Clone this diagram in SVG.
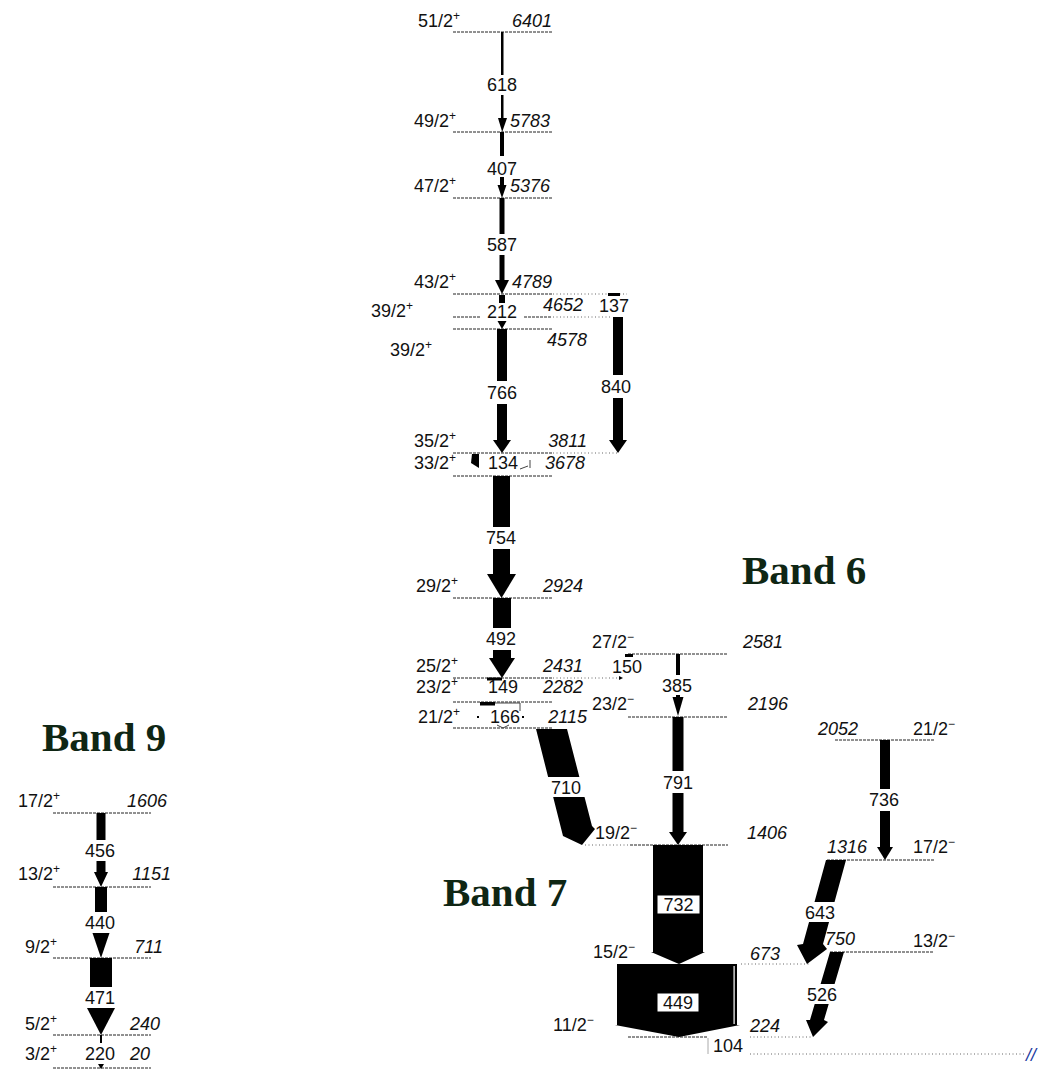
<svg xmlns="http://www.w3.org/2000/svg" width="1041" height="1071" viewBox="0 0 1041 1071">
<style>
text{font-family:"Liberation Sans",Arial,sans-serif;font-size:18px;fill:#111}
.e{font-style:italic}
.s{font-size:12px}
.en{font-style:italic;text-anchor:end}
.lv{stroke:#222;stroke-width:1;stroke-dasharray:3 1;fill:none}
.dt{stroke:#666;stroke-width:1;stroke-dasharray:1 2.5;fill:none}
.thin{stroke:#444;stroke-width:1;fill:none}
.band{font-family:"Liberation Serif","Times New Roman",serif;font-weight:bold;font-size:41px;fill:#0f2614}
.lb{text-anchor:middle}
.bx{fill:#fff;stroke:#000;stroke-width:1}
.wh{fill:#fff}
</style>
<rect width="1041" height="1071" fill="#fff"/>
<g id="bands">
<text class="band" x="742" y="584">Band 6</text>
<text class="band" x="443" y="906">Band 7</text>
<text class="band" x="42" y="751">Band 9</text>
</g>
<!-- Levels -->
<g id="L6401"><line class="lv" x1="453" y1="32" x2="552" y2="32"/><text x="418" y="27">51/2<tspan class="s" dy="-7">+</tspan></text><text class="en" x="552" y="27">6401</text></g>
<g id="L5783"><line class="lv" x1="453" y1="132" x2="552" y2="132"/><text x="414" y="127">49/2<tspan class="s" dy="-7">+</tspan></text><text class="en" x="550" y="127">5783</text></g>
<g id="L5376"><line class="lv" x1="453" y1="198" x2="552" y2="198"/><text x="414" y="192">47/2<tspan class="s" dy="-7">+</tspan></text><text class="en" x="550" y="192">5376</text></g>
<g id="L4789"><line class="lv" x1="453" y1="294" x2="552" y2="294"/><line class="dt" x1="553" y1="294" x2="627" y2="294"/><text x="414" y="288">43/2<tspan class="s" dy="-7">+</tspan></text><text class="en" x="552" y="288">4789</text></g>
<g id="L4652"><line class="lv" x1="453" y1="317" x2="480" y2="317"/><line class="lv" x1="524" y1="317" x2="552" y2="317"/><line class="dt" x1="553" y1="317" x2="612" y2="317"/><text x="371" y="317">39/2<tspan class="s" dy="-7">+</tspan></text><text class="en" x="583" y="311">4652</text></g>
<g id="L4578"><line class="lv" x1="453" y1="329" x2="552" y2="329"/><text x="390" y="356">39/2<tspan class="s" dy="-7">+</tspan></text><text class="en" x="587" y="346">4578</text></g>
<g id="L3811"><line class="lv" x1="453" y1="453" x2="552" y2="453"/><line class="dt" x1="553" y1="453" x2="618" y2="453"/><text x="414" y="447">35/2<tspan class="s" dy="-7">+</tspan></text><text class="en" x="587" y="447">3811</text></g>
<g id="L3678"><line class="lv" x1="453" y1="476" x2="552" y2="476"/><text x="414" y="469">33/2<tspan class="s" dy="-7">+</tspan></text><text class="en" x="585" y="469">3678</text></g>
<g id="L2924"><line class="lv" x1="453" y1="598" x2="552" y2="598"/><text x="416" y="592">29/2<tspan class="s" dy="-7">+</tspan></text><text class="en" x="583" y="592">2924</text></g>
<g id="L2431"><line class="lv" x1="453" y1="678" x2="552" y2="678"/><line class="dt" x1="553" y1="678" x2="621" y2="678"/><text x="416" y="672">25/2<tspan class="s" dy="-7">+</tspan></text><text class="en" x="583" y="672">2431</text></g>
<g id="L2282"><line class="lv" x1="453" y1="702" x2="552" y2="702"/><text x="416" y="693">23/2<tspan class="s" dy="-7">+</tspan></text><text class="en" x="583" y="693">2282</text></g>
<g id="L2115"><line class="lv" x1="453" y1="728" x2="552" y2="728"/><text x="418" y="723">21/2<tspan class="s" dy="-7">+</tspan></text><text class="en" x="587" y="723">2115</text></g>
<g id="L2581"><line class="lv" x1="628" y1="654" x2="727" y2="654"/><text x="592" y="648">27/2<tspan class="s" dy="-7">−</tspan></text><text class="en" x="783" y="648">2581</text></g>
<g id="L2196"><line class="lv" x1="628" y1="717" x2="727" y2="717"/><text x="592" y="710">23/2<tspan class="s" dy="-7">−</tspan></text><text class="en" x="788" y="710">2196</text></g>
<g id="L1406"><line class="lv" x1="630" y1="845" x2="728" y2="845"/><line class="dt" x1="585" y1="845" x2="629" y2="845"/><text x="595" y="839">19/2<tspan class="s" dy="-7">−</tspan></text><text class="en" x="787" y="839">1406</text></g>
<g id="L673"><line class="dt" x1="741" y1="964" x2="810" y2="964"/><text x="593" y="958">15/2<tspan class="s" dy="-7">−</tspan></text><text class="en" x="780" y="960">673</text></g>
<g id="L224"><line class="lv" x1="628" y1="1037" x2="708" y2="1037"/><line class="dt" x1="750" y1="1037" x2="813" y2="1037"/><text x="553" y="1031">11/2<tspan class="s" dy="-7">−</tspan></text><text class="en" x="780" y="1032">224</text></g>
<g id="L104"><line class="dt" x1="750" y1="1054" x2="1026" y2="1054"/><text x="1026" y="1061" style="fill:#1c3aa0;font-style:italic">//</text></g>
<g id="L2052"><line class="lv" x1="835" y1="740" x2="934" y2="740"/><text class="e" x="818" y="735">2052</text><text x="913" y="735">21/2<tspan class="s" dy="-7">−</tspan></text></g>
<g id="L1316"><line class="lv" x1="827" y1="860" x2="934" y2="860"/><text class="e" x="827" y="853">1316</text><text x="913" y="853">17/2<tspan class="s" dy="-7">−</tspan></text></g>
<g id="L750"><line class="lv" x1="830" y1="952" x2="933" y2="952"/><text class="e" x="825" y="945">750</text><text x="913" y="947">13/2<tspan class="s" dy="-7">−</tspan></text></g>
<g id="L1606"><line class="lv" x1="53" y1="813" x2="151" y2="813"/><text x="18" y="807">17/2<tspan class="s" dy="-7">+</tspan></text><text class="en" x="167" y="807">1606</text></g>
<g id="L1151"><line class="lv" x1="53" y1="887" x2="151" y2="887"/><text x="18" y="880">13/2<tspan class="s" dy="-7">+</tspan></text><text class="en" x="171" y="880">1151</text></g>
<g id="L711"><line class="lv" x1="53" y1="958" x2="151" y2="958"/><text x="25" y="953">9/2<tspan class="s" dy="-7">+</tspan></text><text class="en" x="163" y="953">711</text></g>
<g id="L240"><line class="lv" x1="53" y1="1035" x2="151" y2="1035"/><text x="25" y="1030">5/2<tspan class="s" dy="-7">+</tspan></text><text class="en" x="160" y="1030">240</text></g>
<g id="L20"><line class="lv" x1="53" y1="1068" x2="151" y2="1068"/><text x="25" y="1060">3/2<tspan class="s" dy="-7">+</tspan></text><text class="en" x="150" y="1060">20</text></g>
<!-- Transitions -->
<g id="transitions" fill="#000">
<rect x="501" y="32" width="2.5" height="43"/><rect x="501" y="95" width="2.5" height="24"/><polygon points="498,118 507,118 502.2,132"/><text class="lb" x="502" y="91">618</text>
<rect x="500" y="132" width="4" height="24"/><rect x="500" y="177" width="4" height="8"/><polygon points="497.5,185 506.5,185 502,198"/><text class="lb" x="502" y="175">407</text>
<rect x="499.5" y="198" width="5" height="36"/><rect x="499.5" y="255" width="5" height="25"/><polygon points="495,280 509,280 502,294"/><text class="lb" x="502" y="251">587</text>
<rect x="499" y="295" width="6" height="8"/><polygon points="497.5,321 506.5,321 502,329"/><text class="lb" x="502" y="318">212</text>
<rect x="497" y="329" width="10" height="52"/><rect x="497" y="404" width="10" height="36"/><polygon points="493,440 511,440 502,453"/><text class="lb" x="502" y="399">766</text>
<rect x="608" y="293" width="12" height="3"/><text class="lb" x="614" y="312">137</text>
<rect x="613" y="317" width="10" height="58"/><rect x="613" y="398" width="10" height="42"/><polygon points="609,440 627,440 618,453"/><text class="lb" x="616" y="393">840</text>
<polygon points="472,454 479,454 479,468 471,463"/><polyline class="thin" points="520,469 528,466"/><line class="thin" x1="530" y1="460" x2="530" y2="468"/><text class="lb" x="503" y="469">134</text>
<rect x="493" y="476" width="17" height="51"/><rect x="493" y="549" width="17" height="25"/><polygon points="487,574 516,574 501.5,598"/><text class="lb" x="501" y="544">754</text>
<rect x="493" y="598" width="18" height="30"/><rect x="493" y="650" width="18" height="9"/><polygon points="489,658 515,658 502,678"/><text class="lb" x="501" y="645">492</text>
<rect x="487" y="677.5" width="15" height="3"/><text class="lb" x="503" y="693">149</text>
<rect x="480" y="702" width="15" height="3.5"/><line class="thin" x1="495" y1="703" x2="520" y2="703"/><line class="thin" x1="520" y1="703" x2="520" y2="711"/><rect x="477" y="716" width="2" height="2"/><rect x="522" y="716" width="2" height="2"/><polyline class="thin" points="497,725 503,728 509,725"/><text class="lb" x="505" y="723">166</text>
<rect x="625" y="654" width="8" height="3"/><polygon points="619,676 623,678 619,680"/><text class="lb" x="627" y="673">150</text>
<polygon points="536,729 567,729 592,826 595,829 582,845 563,836"/><rect class="wh" x="548" y="777" width="40" height="20"/><text class="lb" x="566" y="794">710</text>
<rect x="676" y="654" width="4" height="21"/><rect x="676" y="695" width="4" height="3"/><polygon points="672.5,697 683.5,697 678,716"/><text class="lb" x="677" y="692">385</text>
<rect x="672.5" y="717" width="11" height="54"/><rect x="672.5" y="793" width="11" height="40"/><polygon points="669,832 687,832 678,845"/><text class="lb" x="678" y="789">791</text>
<polygon points="653,845 703,845 703,952 705,952 679,964 651,952 653,952"/><rect class="bx" x="657" y="895" width="43" height="19"/><text class="lb" x="678.5" y="911">732</text>
<polygon points="617,964 737,964 737,1025 740,1025 679,1037 615,1025 617,1025"/><rect class="wh" x="733.5" y="966" width="1.2" height="58"/><rect class="bx" x="657" y="993" width="42" height="19"/><text class="lb" x="678" y="1009">449</text>
<rect x="880" y="740" width="10" height="49"/><rect x="880" y="811" width="10" height="36"/><polygon points="877,847 893,847 885,860"/><text class="lb" x="884" y="806">736</text>
<polygon points="826,860 846,860 823,944 827,949 807,964 797,945 803,944"/><rect class="wh" x="804" y="902" width="34" height="20"/><text class="lb" x="820" y="919">643</text>
<polygon points="830,952 844,952 824,1020 828,1022 813,1037 806,1020 810,1020"/><rect class="wh" x="805" y="984" width="36" height="20"/><text class="lb" x="822" y="1001">526</text>
<line x1="708" y1="1038" x2="708" y2="1054" stroke="#aaa" stroke-width="1"/><text x="713" y="1052">104</text>
<rect x="96.5" y="813" width="9" height="27"/><rect x="96.5" y="861" width="9" height="11"/><polygon points="94,872 108,872 101,887"/><text class="lb" x="100" y="857">456</text>
<rect x="95" y="887" width="12" height="25"/><polygon points="92.5,933 109.5,933 101,958"/><text class="lb" x="100" y="929">440</text>
<rect x="90" y="958" width="22" height="29"/><polygon points="87,1008 115,1008 101,1035"/><text class="lb" x="100" y="1004">471</text>
<rect x="100" y="1035" width="2" height="8"/><polygon points="98,1064 104,1064 101,1069"/><text class="lb" x="100" y="1060">220</text>
</g>
</svg>
